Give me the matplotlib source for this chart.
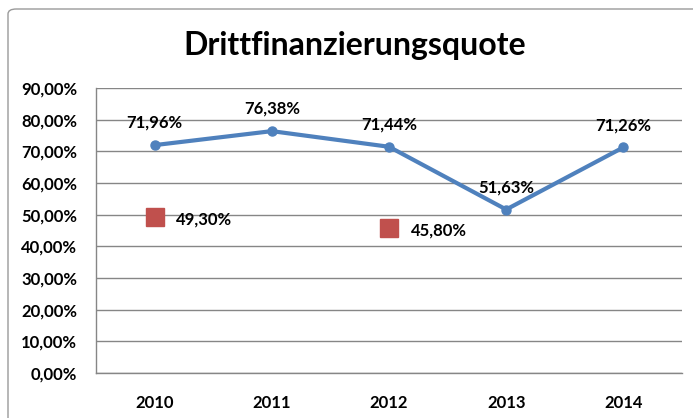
import matplotlib
matplotlib.use("Agg")
import matplotlib.pyplot as plt
from matplotlib.patches import FancyBboxPatch
from matplotlib.ticker import FuncFormatter, MultipleLocator

years = ["2010", "2011", "2012", "2013", "2014"]
quote = [71.96, 76.38, 71.44, 51.63, 71.26]
quote_labels = ["71,96%", "76,38%", "71,44%", "51,63%", "71,26%"]
other_idx = [0, 2]
other_vals = [49.30, 45.80]
other_labels = ["49,30%", "45,80%"]
title = "Drittfinanzierungsquote"

W, H, DPI = 693, 418, 100
fig = plt.figure(figsize=(W / DPI, H / DPI), dpi=DPI)
plt.rcParams['font.family'] = ['Lato', 'DejaVu Sans']

# chart border
border = FancyBboxPatch((8 / W, -0.1), 1.1, (H - 9) / H + 0.1,
                        boxstyle="round,pad=0,rounding_size=0.012",
                        transform=fig.transFigure, fill=False,
                        edgecolor="#9a9a9a", linewidth=1.0, clip_on=False)
fig.patches.append(border)

left, right, bottom, top = 96, 682, 373, 88
ax = fig.add_axes([left / W, (H - bottom) / H, (right - left) / W, (bottom - top) / H])

x = list(range(len(years)))
ax.plot(x, quote, color="#4F81BD", linewidth=3, marker="o", markersize=6.5,
        zorder=3, solid_capstyle="round")
ax.plot([x[i] for i in other_idx], other_vals, linestyle="none", marker="s",
        markersize=12.5, color="#C0504D", zorder=3)

for xi, v, lab in zip(x, quote, quote_labels):
    ax.annotate(lab, (xi, v), xytext=(0, 16), textcoords="offset points",
                ha="center", va="center", fontsize=12, fontweight="bold")
for i, v, lab in zip(other_idx, other_vals, other_labels):
    ax.annotate(lab, (x[i], v), xytext=(15.5, -2), textcoords="offset points",
                ha="left", va="center", fontsize=12, fontweight="bold")

ax.set_xlim(-0.5, len(years) - 0.5)
ax.set_ylim(0, 90)
ax.yaxis.set_major_locator(MultipleLocator(10))
ax.yaxis.set_major_formatter(FuncFormatter(lambda v, p: f"{v:.2f}".replace(".", ",") + "%"))
ax.set_xticks(x)
ax.set_xticklabels(years)
ax.grid(axis="y", color="#868686", linewidth=1)
ax.set_axisbelow(True)
for s in ["top", "right"]:
    ax.spines[s].set_visible(False)
for s in ["left", "bottom"]:
    ax.spines[s].set_color("#868686")
    ax.spines[s].set_linewidth(1)
ax.tick_params(axis="both", length=0, labelsize=12)
ax.tick_params(axis="y", pad=13.5)
ax.tick_params(axis="x", pad=16)
for t in ax.get_xticklabels() + ax.get_yticklabels():
    t.set_fontweight("bold")

fig.text(0.512, (H - 46) / H, title, ha="center", va="center",
         fontsize=23, fontweight="bold")

fig.savefig("out.png", dpi=DPI)
